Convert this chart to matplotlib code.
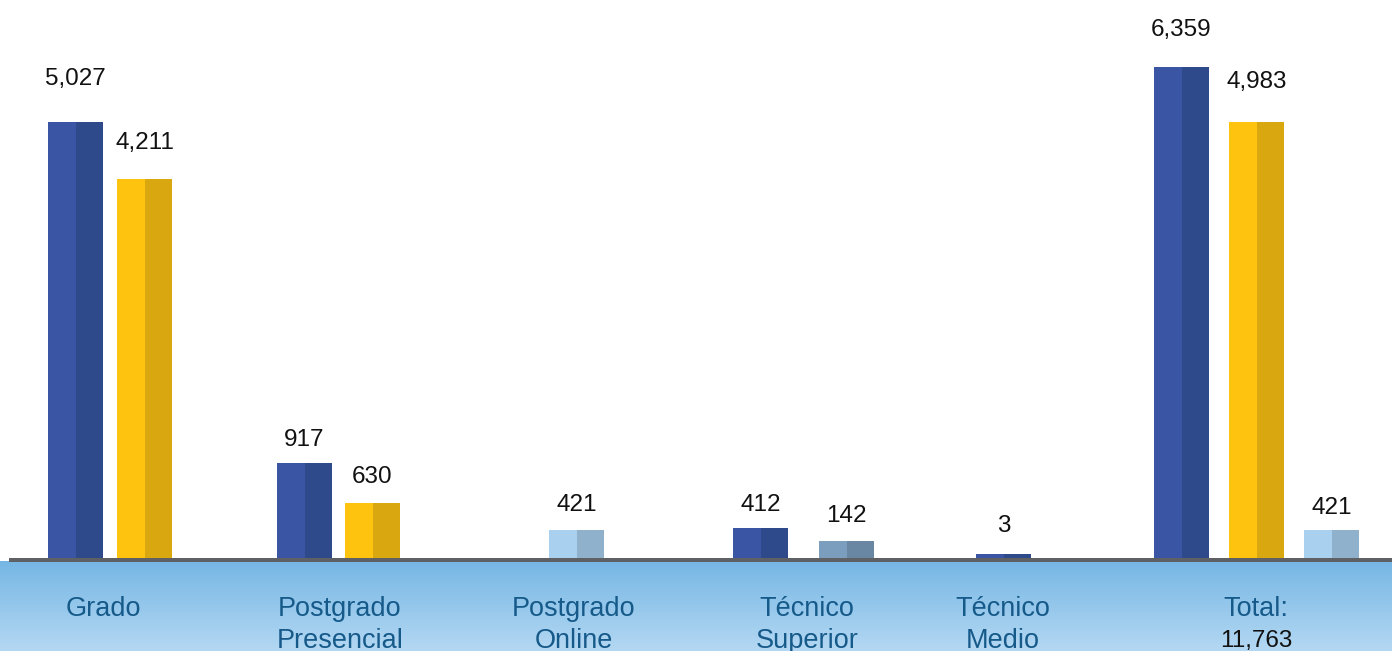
import numpy as np
import matplotlib
matplotlib.use("Agg")
import matplotlib.pyplot as plt
from matplotlib.patches import Rectangle
from matplotlib.colors import LinearSegmentedColormap

plt.rcParams['font.family'] = ['Liberation Sans', 'DejaVu Sans']

# --- data -------------------------------------------------------------
categories = ["Grado", "Postgrado\nPresencial", "Postgrado\nOnline",
              "Técnico\nSuperior", "Técnico\nMedio", "Total:"]
total_label = "11,763"

# one entry per bar
bar_group = [0, 0, 1, 1, 2, 3, 3, 4, 5, 5, 5]
bar_series = ["azul", "amarillo", "azul", "amarillo", "celeste",
              "azul", "gris", "azul", "azul", "amarillo", "celeste"]
bar_values = [5027, 4211, 917, 630, 421, 412, 142, 3, 6359, 4983, 421]
# drawn heights as they appear on the chart (scale set by the Total bar)
bar_heights = [5647, 4908, 1230, 712, 363, 389, 220, 52, 6359, 5647, 363]

# --- style / layout ---------------------------------------------------
W, H = 1392, 651
base_px = 558
colors = {
    "azul": ("#3955a4", "#2f4a8a"),
    "amarillo": ("#fec30f", "#d9a710"),
    "celeste": ("#a9d1ef", "#8fb1cc"),
    "gris": ("#7b9dbe", "#6986a3"),
}
bar_x = [75.5, 144.5, 304.5, 372.5, 576.5, 760.5, 846.5, 1003.5,
         1181.5, 1256.5, 1331.5]
bar_w = 55
label_gap = [37, 30, 17, 20, 19, 17, 19, 22, 31, 34, 16]   # px above bar
cat_x = [103, 340, 574, 807, 1003, 1256]
cat_color = "#165a8a"

fig = plt.figure(figsize=(W / 100, H / 100), dpi=100)
ax = fig.add_axes([0, 1 - base_px / H, 1, base_px / H])
ymax = 6359 * base_px / 491
ax.set_xlim(0, W)
ax.set_ylim(0, ymax)
ax.axis("off")

for x, h, s in zip(bar_x, bar_heights, bar_series):
    light, dark = colors[s]
    ax.bar(x - bar_w / 2, h, width=bar_w / 2, align="edge", color=light, linewidth=0)
    ax.bar(x, h, width=bar_w / 2, align="edge", color=dark, linewidth=0)

for x, h, v, g in zip(bar_x, bar_heights, bar_values, label_gap):
    ax.annotate(f"{v:,}", xy=(x, h), xytext=(0, g * 0.72), textcoords="offset points",
                ha="center", va="baseline", fontsize=17.5, color="#111111")

# gradient band under the baseline
bax = fig.add_axes([0, 0, 1, (H - 561) / H])
grad = np.linspace(0, 1, 256).reshape(-1, 1)
cmap = LinearSegmentedColormap.from_list("band", ["#75b6e4", "#b4d8f3"])
bax.imshow(grad, cmap=cmap, aspect="auto", extent=(0, 1, 0, 1), origin="upper")
bax.set_xlim(0, 1)
bax.set_ylim(0, 1)
bax.axis("off")

# grey baseline
fig.add_artist(Rectangle((9 / W, 1 - 562 / H), 1, 4 / H, transform=fig.transFigure,
                         color="#5f6064", zorder=5, linewidth=0))

# category labels
for cx, cat in zip(cat_x, categories):
    for i, line in enumerate(cat.split("\n")):
        fig.text(cx / W, 1 - (616.5 + i * 31) / H, line, ha="center", va="baseline",
                 fontsize=19.5, color=cat_color, zorder=6)
fig.text(cat_x[-1] / W, 1 - 646.5 / H, total_label, ha="center", va="baseline",
         fontsize=17.5, color="#111111", zorder=6)

fig.savefig("out.png", dpi=100)
